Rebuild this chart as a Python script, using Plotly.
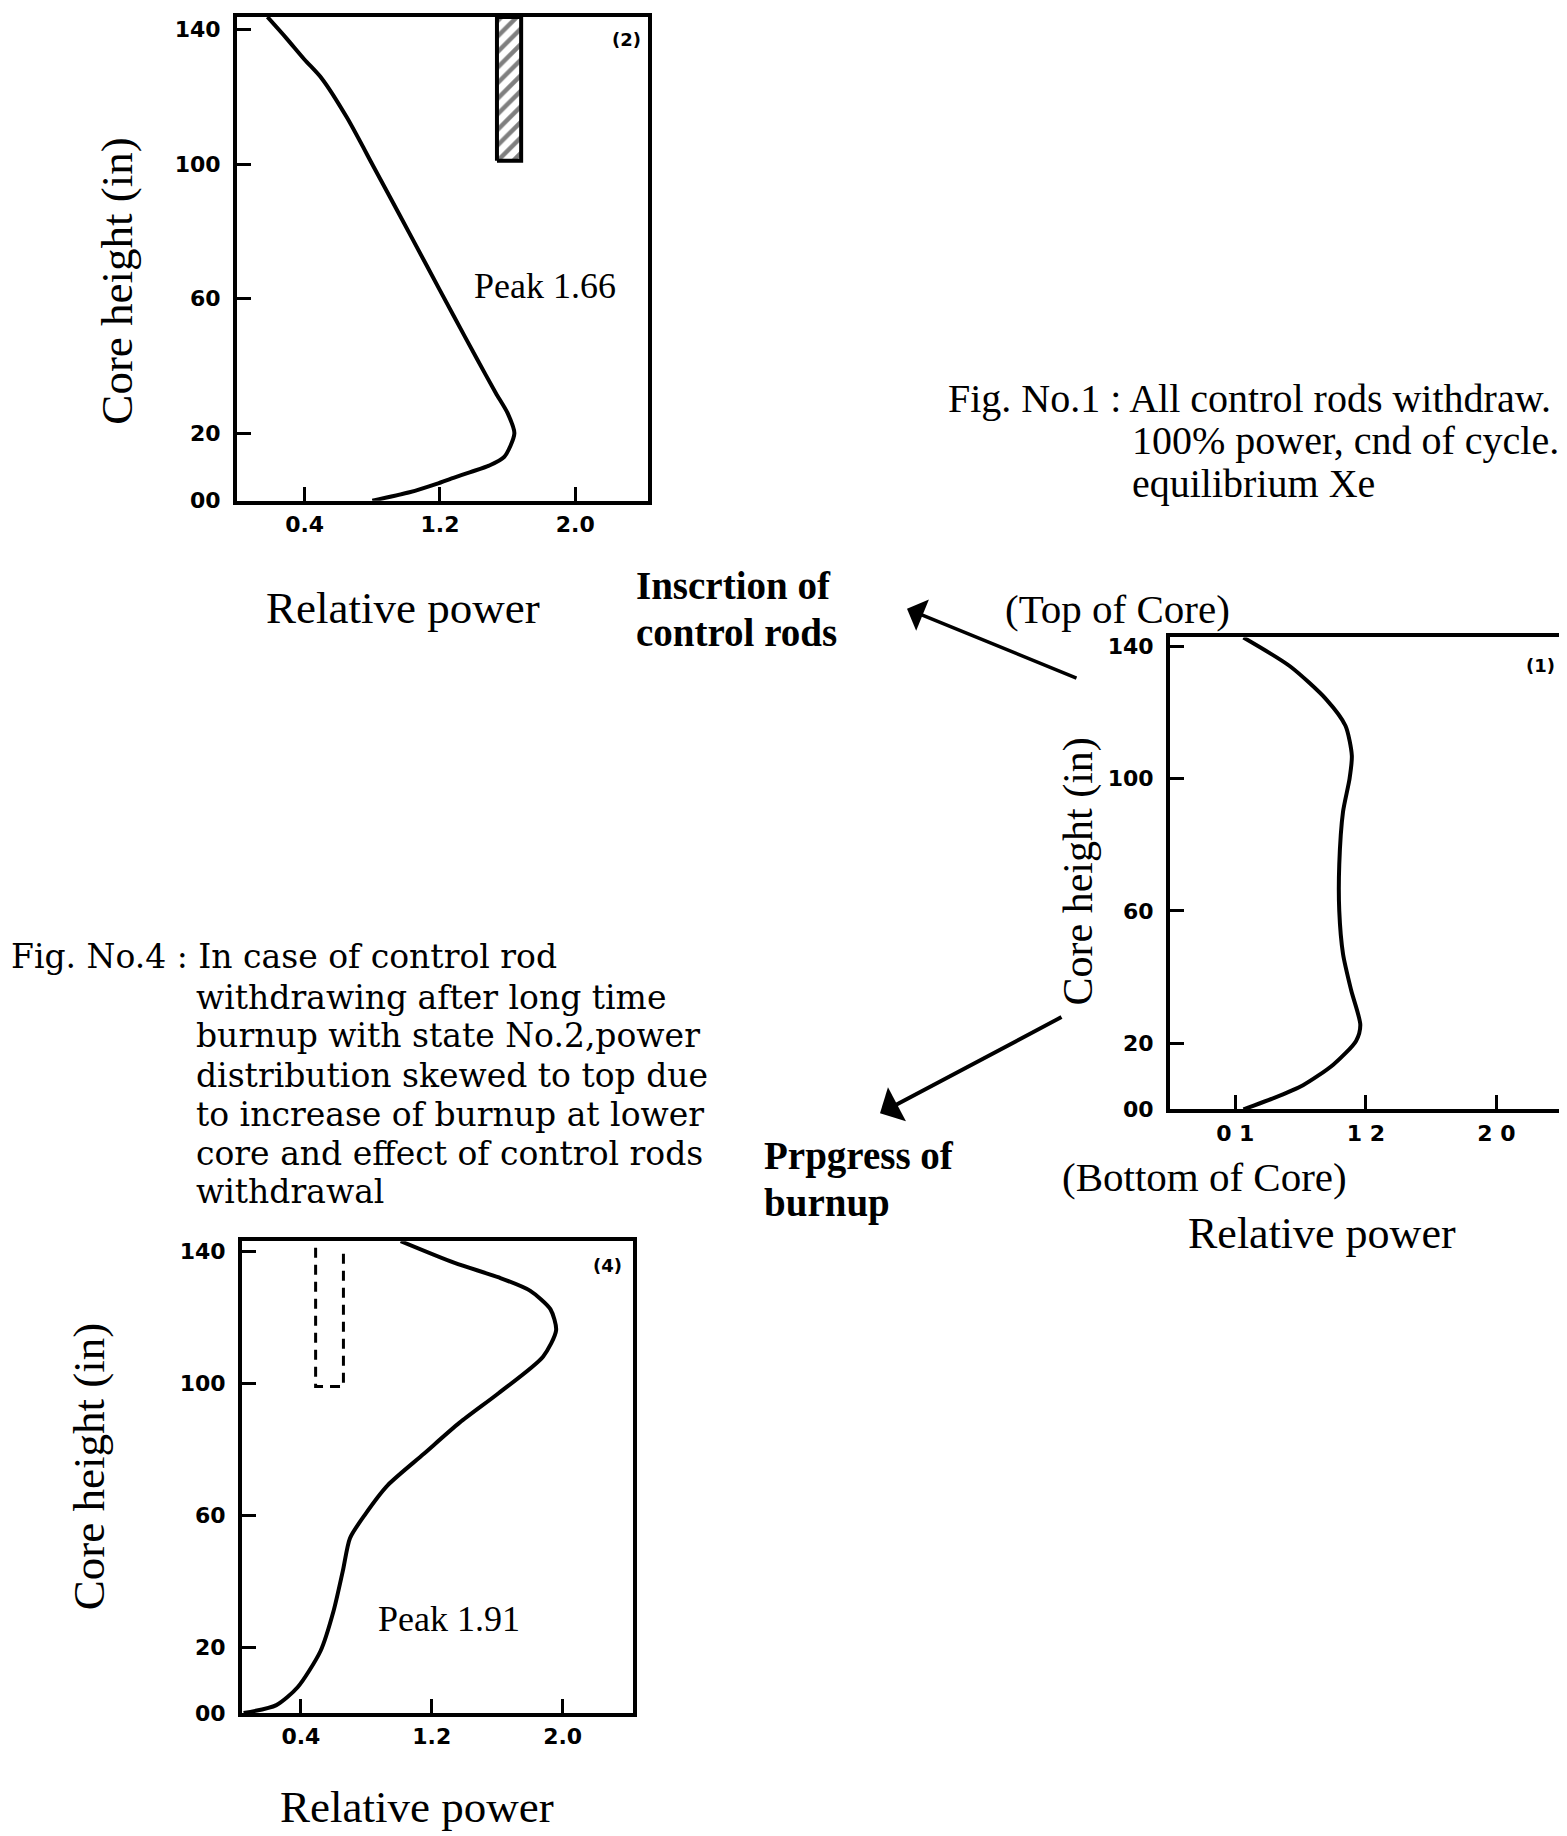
import plotly.graph_objects as go

W, H = 1567, 1836

# ---- data ----
# Fig (2): control rods inserted
p2_power = [0.80, 1.02, 1.18, 1.28, 1.38, 1.49, 1.58, 1.64, 1.60, 1.53, 1.42, 1.28, 1.12, 0.96, 0.81, 0.65, 0.50, 0.40, 0.29, 0.18]
p2_height = [0, 2.5, 5.0, 6.8, 8.5, 10.4, 13, 20, 26, 32, 42, 55, 70, 85, 99, 113.8, 125.5, 131, 137.5, 143.7]
rod2_x = [1.537, 1.68, 1.68, 1.537, 1.537]
rod2_y = [101, 101, 143.7, 143.7, 101]

# Fig (1): all rods withdrawn
p1_power = [0.45, 0.63, 0.815, 1.0, 1.14, 1.166, 1.11, 1.06, 1.037, 1.037, 1.06, 1.10, 1.114, 1.075, 0.957, 0.735, 0.45]
p1_height = [0, 3.3, 7.3, 13.5, 20.7, 25.5, 36, 47, 60, 74, 90, 100, 107, 116, 124, 134, 142.7]

# Fig (4): rods withdrawn after long burnup
p4_power = [0.05, 0.25, 0.38, 0.52, 0.60, 0.656, 0.70, 0.79, 0.93, 1.15, 1.37, 1.61, 1.88, 1.96, 1.925, 1.80, 1.61, 1.34, 1.01]
p4_height = [0, 2.4, 7.8, 18.8, 31, 43, 53, 60, 69, 78.5, 88, 97, 108, 116, 122.4, 128, 132, 136.4, 143]
rod4_x = [0.49, 0.49, 0.66, 0.66]
rod4_y = [141, 99, 99, 141]

y_ticks = [0, 20, 60, 100, 140]
y_labels = ["00", "20", "60", "100", "140"]
x_ticks = [0.4, 1.2, 2.0]
x_labels = ["0.4", "1.2", "2.0"]
x_labels_1 = ["0 1", "1 2", "2 0"]

fig1_caption = ["Fig. No.1 : All control rods withdraw.",
                "100% power, cnd of cycle.",
                "equilibrium Xe"]
fig4_head = "Fig. No.4 : In case of control rod"
fig4_lines = ["withdrawing after long time",
              "burnup with state No.2,power",
              "distribution skewed to top due",
              "to increase of burnup at lower",
              "core and effect of control rods",
              "withdrawal"]

SERIF = "Liberation Serif"
CAPTION4 = "DejaVu Serif"
TICKFONT = dict(family="DejaVu Sans", size=22, color="black", weight="bold")


def px_x(x):
    return x / W


def px_y(y):
    return 1 - y / H


fig = go.Figure()

line_style = dict(color="black", width=4, shape="spline", smoothing=0.7)

fig.add_trace(go.Scatter(x=p2_power, y=p2_height, mode="lines", line=line_style,
                         xaxis="x", yaxis="y", showlegend=False))
fig.add_trace(go.Scatter(x=rod2_x, y=rod2_y, mode="lines", fill="toself",
                         fillcolor="white",
                         fillpattern=dict(shape="/", fgcolor="black", bgcolor="white",
                                          size=11, solidity=0.4),
                         line=dict(color="black", width=4),
                         xaxis="x", yaxis="y", showlegend=False))

fig.add_trace(go.Scatter(x=p1_power, y=p1_height, mode="lines", line=line_style,
                         xaxis="x2", yaxis="y2", showlegend=False))

fig.add_trace(go.Scatter(x=p4_power, y=p4_height, mode="lines", line=line_style,
                         xaxis="x3", yaxis="y3", showlegend=False))
fig.add_trace(go.Scatter(x=rod4_x, y=rod4_y, mode="lines",
                         line=dict(color="black", width=3, dash="10px,7px"),
                         xaxis="x3", yaxis="y3", showlegend=False))


def xax(domain, rng, anchor, labels):
    return dict(domain=domain, range=rng, anchor=anchor, showgrid=False, zeroline=False,
                showline=True, mirror=True, linecolor="black", linewidth=4,
                ticks="inside", ticklen=14, tickwidth=3, tickcolor="black",
                tickvals=x_ticks, ticktext=labels, tickfont=TICKFONT,
                ticklabelstandoff=1)


def yax(domain, rng, anchor):
    return dict(domain=domain, range=rng, anchor=anchor, showgrid=False, zeroline=False,
                showline=True, mirror=True, linecolor="black", linewidth=4,
                ticks="inside", ticklen=14, tickwidth=3, tickcolor="black",
                tickvals=y_ticks, ticktext=y_labels, tickfont=TICKFONT,
                ticklabelstandoff=8)


fig.update_layout(
    width=W, height=H,
    margin=dict(l=0, r=0, t=0, b=0),
    paper_bgcolor="white", plot_bgcolor="white",
    showlegend=False,
    xaxis=xax([px_x(229), px_x(640)], [0, 2.43], "y", x_labels),
    yaxis=yax([px_y(494), px_y(6)], [0, 143.7], "x"),
    xaxis2=xax([px_x(1162), px_x(1557)], [0, 2.42], "y2", x_labels_1),
    yaxis2=yax([px_y(1108), px_y(632)], [0, 142.7], "x2"),
    xaxis3=xax([px_x(234), px_x(625)], [0.04, 2.43], "y3", x_labels),
    yaxis3=yax([px_y(1717), px_y(1241)], [0, 143.0], "x3"),
)

annotations = []


def txt(text, x, y, size=41, xanchor="center", angle=0, bold=False, family=SERIF):
    annotations.append(dict(
        text=text, x=px_x(x), y=px_y(y), xref="paper", yref="paper",
        xanchor=xanchor, yanchor="middle", showarrow=False, textangle=angle,
        font=dict(family=family, size=size, color="black",
                  weight="bold" if bold else "normal")))


# axis titles
txt("Core height (in)", 109, 272, size=45, angle=-90)
txt("Core height (in)", 1070, 868, size=42, angle=-90)
txt("Core height (in)", 81, 1469, size=45, angle=-90)
txt("Relative power", 395, 602, size=45)
txt("Relative power", 1314, 1233, size=44)
txt("Relative power", 409, 1812, size=45)

# panel labels
txt("(2)", 618, 29, size=18, bold=True, family="DejaVu Sans")
txt("(1)", 1532, 660, size=18, bold=True, family="DejaVu Sans")
txt("(4)", 599, 1266, size=18, bold=True, family="DejaVu Sans")

# peak labels
txt("Peak 1.66", 537, 277, size=36)
txt("Peak 1.91", 441, 1622, size=36)

# core labels
txt("(Top of Core)", 1109, 603, size=41)
txt("(Bottom of Core)", 1196, 1176, size=41)

# arrow captions
txt("Inscrtion of", 626, 580, size=39, xanchor="left", bold=True)
txt("control rods", 626, 627, size=39, xanchor="left", bold=True)
txt("Prpgress of", 754, 1155, size=39, xanchor="left", bold=True)
txt("burnup", 754, 1202, size=39, xanchor="left", bold=True)

# figure captions
txt(fig1_caption[0], 938, 391, size=40, xanchor="left")
txt(fig1_caption[1], 1122, 433, size=40, xanchor="left")
txt(fig1_caption[2], 1122, 477, size=40, xanchor="left")

fig4_y = [995, 1034, 1074, 1113, 1153, 1191]
txt(fig4_head, 1, 954, size=33, xanchor="left", family=CAPTION4)
for ln, yy in zip(fig4_lines, fig4_y):
    txt(ln, 186, yy, size=33, xanchor="left", family=CAPTION4)

# arrows
annotations.append(dict(x=px_x(899), y=px_y(603), xref="paper", yref="paper",
                        ax=171, ay=70, showarrow=True, arrowhead=1, arrowsize=1.6,
                        arrowwidth=3.5, arrowcolor="black", text=""))
annotations.append(dict(x=px_x(872), y=px_y(1112), xref="paper", yref="paper",
                        ax=183, ay=-97, showarrow=True, arrowhead=1, arrowsize=1.6,
                        arrowwidth=4, arrowcolor="black", text=""))

fig.update_layout(annotations=annotations)

fig.write_html("out.html")
